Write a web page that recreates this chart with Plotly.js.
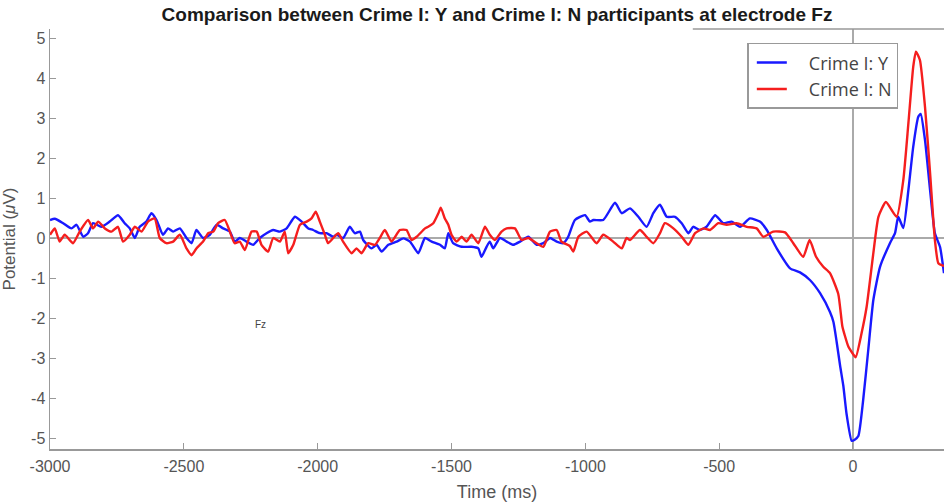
<!DOCTYPE html>
<html>
<head>
<meta charset="utf-8">
<script src="https://cdn.plot.ly/plotly-3.0.1.min.js"></script>
<style>
html,body{margin:0;padding:0;background:#fff;}
#chart{width:944px;height:502px;}
#chart .legend .legendlines path{stroke-dasharray:0 3 30 300 !important;}
</style>
</head>
<body>
<div id="chart"></div>
<script>
// Crime I: Y (blue)
const timeY = [-3000,-2982,-2951,-2920,-2901,-2876,-2858,-2839,-2808,-2777,-2746,-2721,-2702,-2683,-2665,-2640,-2621,-2602,-2578,-2559,-2540,-2515,-2490,-2471,-2453,-2428,-2403,-2378,-2353,-2328,-2310,-2291,-2266,-2241,-2216,-2191,-2166,-2141,-2116,-2085,-2060,-2035,-2017,-1992,-1967,-1942,-1929,-1905,-1880,-1861,-1842,-1830,-1799,-1780,-1761,-1736,-1705,-1680,-1655,-1624,-1599,-1574,-1543,-1525,-1512,-1494,-1462,-1425,-1400,-1388,-1369,-1357,-1344,-1319,-1294,-1269,-1244,-1213,-1182,-1157,-1132,-1107,-1083,-1064,-1039,-1001,-983,-970,-933,-889,-864,-833,-802,-771,-746,-721,-696,-665,-640,-615,-597,-572,-547,-515,-485,-453,-422,-385,-348,-322,-285,-235,-198,-161,-123,-86,-73,-61,-48,-36,-24,-5,5,20,38,57,76,101,138,157,169,188,207,225,244,253,269,288,306,325,340];
const valY = [0.45,0.48,0.37,0.24,0.33,0.03,0.12,0.37,0.28,0.41,0.57,0.37,0.24,0.0,0.28,0.41,0.62,0.45,0.08,0.24,0.16,0.24,0.0,-0.13,0.2,0.0,0.08,0.33,0.24,0.16,-0.09,0.0,-0.09,-0.17,0.0,0.12,0.2,0.16,0.24,0.53,0.41,0.24,0.2,0.12,0.12,0.03,0.08,0.0,0.28,0.12,0.16,-0.05,-0.26,-0.17,-0.34,-0.17,-0.09,-0.01,-0.09,-0.38,0.0,-0.09,-0.17,-0.26,0.12,-0.13,-0.22,-0.22,-0.26,-0.47,-0.22,-0.09,-0.26,0.0,-0.09,-0.17,-0.09,0.03,-0.17,-0.13,0.0,-0.09,-0.13,0.03,0.45,0.57,0.41,0.45,0.45,0.88,0.62,0.74,0.53,0.28,0.62,0.83,0.53,0.53,0.37,0.12,0.28,0.2,0.28,0.57,0.37,0.41,0.28,0.49,0.41,0.2,-0.26,-0.76,-0.86,-1.05,-1.38,-1.85,-2.1,-2.6,-3.2,-3.7,-4.4,-5.07,-5.05,-4.95,-4.05,-2.8,-1.55,-0.72,-0.13,0.12,0.53,0.25,1.2,2.28,3.03,3.1,2.45,1.2,0.12,-0.22,-0.88];

// Crime I: N (red)
const timeN = [-3000,-2982,-2964,-2945,-2914,-2889,-2858,-2839,-2820,-2795,-2770,-2746,-2727,-2702,-2683,-2658,-2634,-2609,-2590,-2565,-2540,-2515,-2490,-2471,-2453,-2428,-2409,-2390,-2372,-2347,-2328,-2310,-2291,-2272,-2247,-2228,-2210,-2185,-2166,-2141,-2123,-2110,-2091,-2066,-2041,-2023,-2007,-1992,-1973,-1961,-1942,-1923,-1905,-1873,-1855,-1836,-1811,-1786,-1768,-1749,-1724,-1693,-1668,-1649,-1630,-1599,-1587,-1568,-1549,-1540,-1525,-1512,-1500,-1481,-1462,-1444,-1425,-1400,-1375,-1357,-1338,-1313,-1294,-1263,-1238,-1213,-1182,-1157,-1132,-1107,-1089,-1058,-1045,-1026,-995,-958,-933,-896,-864,-846,-833,-796,-771,-746,-721,-703,-671,-640,-615,-590,-559,-534,-503,-472,-435,-397,-360,-335,-298,-254,-223,-186,-162,-138,-111,-86,-55,-40,-30,-17,-5,10,32,51,76,95,123,163,188,207,225,235,250,269,288,306,319,340];
const valN = [0.08,0.24,-0.09,0.08,-0.13,0.16,0.45,0.24,0.41,0.24,0.16,0.28,-0.09,0.08,0.28,0.16,0.41,0.49,0.0,-0.13,-0.09,0.08,-0.26,-0.43,-0.26,-0.09,0.12,0.16,0.37,0.45,0.16,-0.13,-0.09,-0.3,0.16,0.16,-0.17,-0.34,0.0,-0.09,0.16,-0.38,-0.17,0.33,0.41,0.49,0.66,0.41,0.08,-0.13,0.0,0.12,-0.09,-0.38,-0.26,-0.38,-0.13,-0.17,0.0,0.2,-0.09,0.2,0.2,-0.05,0.03,0.24,0.28,0.37,0.62,0.76,0.49,0.33,0.08,-0.09,0.03,-0.09,0.08,-0.13,0.28,0.08,-0.05,0.16,0.24,0.24,-0.05,0.0,-0.13,-0.22,0.16,0.2,-0.09,-0.2,-0.34,0.03,0.16,-0.13,0.08,-0.09,-0.26,0.0,-0.05,0.2,0.03,-0.13,0.12,0.37,0.24,0.03,-0.17,0.12,0.24,0.2,0.37,0.33,0.37,0.28,0.24,0.03,0.16,0.14,-0.13,-0.47,-0.05,-0.47,-0.72,-0.88,-1.4,-2.2,-2.45,-2.72,-2.85,-2.98,-2.38,-1.72,-0.38,0.53,0.9,0.53,1.45,2.87,4.28,4.66,4.45,3.28,1.62,-0.05,-0.63,-0.7];

const seriesNames = ["Crime I: Y", "Crime I: N"];
const xTickVals = [-3000,-2500,-2000,-1500,-1000,-500,0];
const xTickText = ["-3000","-2500","-2000","-1500","-1000","-500","0"];
const yTickVals = [-5,-4,-3,-2,-1,0,1,2,3,4,5];
const yTickText = ["-5","-4","-3","-2","-1","0","1","2","3","4","5"];
const titleText = "Comparison between Crime I: Y and Crime I: N participants at electrode Fz";
const xTitle = "Time (ms)";
const yTitle = "Potential (<i>μ</i>V)";
const labelText = "Fz";
const labelPos = [-2212, -2.15];

const sans = "Liberation Sans, Arial, Helvetica, sans-serif";
const tickFont = {family: sans, size: 16, color: "#555"};

const traces = [
  {x: timeY, y: valY, name: seriesNames[0], type: "scatter", mode: "lines",
   line: {color: "rgb(25,25,255)", width: 2.4, shape: "spline", smoothing: 0.5}},
  {x: timeN, y: valN, name: seriesNames[1], type: "scatter", mode: "lines",
   line: {color: "rgb(245,30,30)", width: 2.4, shape: "spline", smoothing: 0.5}}
];

const layout = {
  width: 944, height: 502,
  margin: {l: 50, r: 0, t: 29, b: 53},
  paper_bgcolor: "#fff", plot_bgcolor: "#fff",
  showlegend: true,
  title: {text: "<b>" + titleText + "</b>", x: 0.5, xref: "paper", xanchor: "center",
          y: 18, yref: "container", yanchor: "middle",
          font: {family: sans, size: 19, color: "#1a1a1a"}},
  xaxis: {
    range: [-3000, 340], tickvals: xTickVals, ticktext: xTickText,
    ticks: "inside", ticklen: 6, tickcolor: "#999", tickfont: tickFont,
    ticklabelstandoff: 2,
    showline: true, linecolor: "#999", linewidth: 1.5, mirror: false,
    showgrid: false, zeroline: true, zerolinecolor: "#aaa", zerolinewidth: 1.2,
    title: {text: xTitle, font: {family: sans, size: 18, color: "#555"}},
    automargin: false
  },
  yaxis: {
    range: [-5.275, 5.225], tickvals: yTickVals, ticktext: yTickText,
    ticks: "inside", ticklen: 6, tickcolor: "#999", tickfont: tickFont,
    showline: true, linecolor: "#999", linewidth: 1.5,
    showgrid: false, zeroline: true, zerolinecolor: "#aaa", zerolinewidth: 1.2,
    title: {text: yTitle, font: {family: sans, size: 17, color: "#555"}},
    automargin: false
  },
  legend: {
    x: 0.78, y: 0.967, xanchor: "left", yanchor: "top",
    bgcolor: "#fff", bordercolor: "#999", borderwidth: 1.5,
    font: {family: "Open Sans, Lato, sans-serif", size: 18, color: "#444"},
    itemwidth: 50, tracegroupgap: 0
  },
  shapes: [
    {type: "line", xref: "paper", yref: "paper", x0: 0.719, x1: 1, y0: 1, y1: 1,
     line: {color: "#999", width: 1.5}}
  ],
  annotations: [
    {x: labelPos[0], y: labelPos[1], xref: "x", yref: "y", text: labelText, showarrow: false,
     font: {family: sans, size: 10, color: "#444"}}
  ]
};

Plotly.newPlot("chart", traces, layout, {displayModeBar: false, staticPlot: true});
</script>
</body>
</html>
